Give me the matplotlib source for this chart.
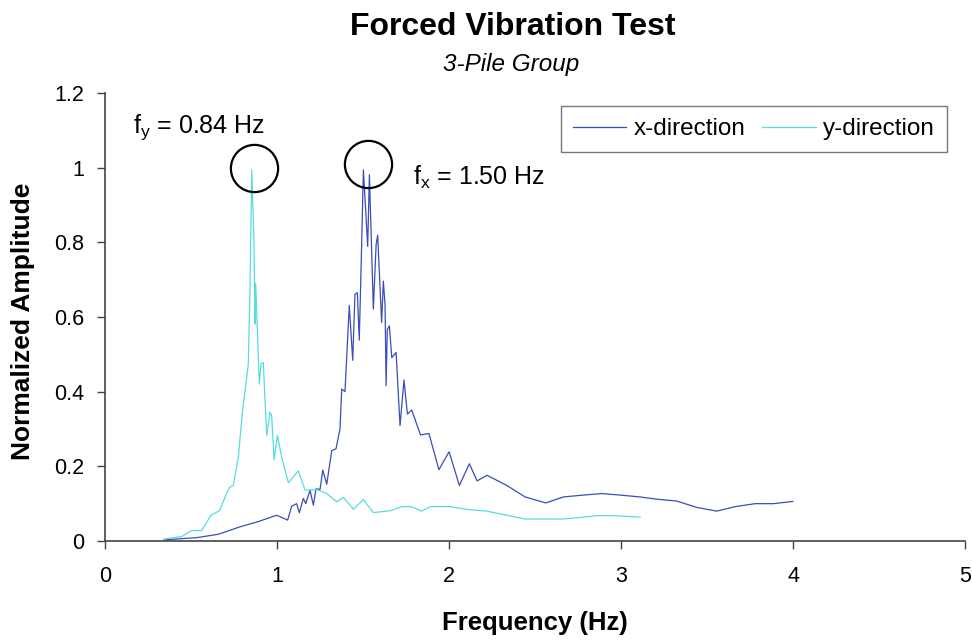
import numpy as np
import matplotlib
matplotlib.use('Agg')
import matplotlib.pyplot as plt

plt.rcParams['font.family'] = ['Liberation Sans', 'DejaVu Sans']

# x-direction response
freq_x = [0.343, 0.533, 0.659, 0.785, 0.891, 0.998, 1.062, 1.085, 1.114, 1.13,
          1.153, 1.167, 1.192, 1.211, 1.227, 1.25, 1.266, 1.289, 1.318, 1.343,
          1.366, 1.376, 1.395, 1.42, 1.44, 1.453, 1.467, 1.478, 1.492, 1.502,
          1.527, 1.537, 1.56, 1.576, 1.585, 1.608, 1.618, 1.628, 1.634, 1.641,
          1.653, 1.667, 1.692, 1.715, 1.738, 1.758, 1.783, 1.834, 1.883, 1.941,
          2.0, 2.06, 2.118, 2.163, 2.221, 2.335, 2.442, 2.562, 2.665, 2.781,
          2.888, 2.994, 3.11, 3.207, 3.323, 3.44, 3.556, 3.663, 3.779, 3.886,
          3.998]
amp_x = [0.003, 0.009, 0.018, 0.038, 0.052, 0.069, 0.056, 0.093, 0.100, 0.076,
         0.114, 0.100, 0.136, 0.096, 0.140, 0.138, 0.190, 0.152, 0.242, 0.247,
         0.30, 0.407, 0.40, 0.631, 0.484, 0.661, 0.665, 0.538, 0.794, 0.994,
         0.789, 0.981, 0.621, 0.794, 0.819, 0.585, 0.696, 0.632, 0.416, 0.567,
         0.576, 0.491, 0.505, 0.309, 0.431, 0.34, 0.351, 0.284, 0.288, 0.191,
         0.239, 0.149, 0.207, 0.161, 0.176, 0.149, 0.118, 0.102, 0.118, 0.123,
         0.127, 0.123, 0.118, 0.112, 0.107, 0.090, 0.080, 0.092, 0.100, 0.100,
         0.106]

# y-direction response
freq_y = [0.343, 0.446, 0.504, 0.562, 0.616, 0.665, 0.698, 0.723, 0.746, 0.775,
          0.80, 0.833, 0.843, 0.853, 0.866, 0.872, 0.876, 0.897, 0.907, 0.92,
          0.94, 0.959, 0.969, 0.983, 1.002, 1.027, 1.066, 1.124, 1.163, 1.231,
          1.289, 1.347, 1.386, 1.444, 1.502, 1.56, 1.657, 1.725, 1.78, 1.84,
          1.89, 2.006, 2.10, 2.22, 2.335, 2.44, 2.66, 2.76, 2.86, 2.955, 3.11]
amp_y = [0.005, 0.012, 0.028, 0.028, 0.069, 0.081, 0.118, 0.143, 0.149, 0.225,
         0.349, 0.474, 0.669, 0.994, 0.803, 0.581, 0.69, 0.42, 0.474, 0.478,
         0.283, 0.345, 0.336, 0.218, 0.283, 0.225, 0.156, 0.188, 0.136, 0.138,
         0.127, 0.105, 0.117, 0.085, 0.111, 0.076, 0.081, 0.092, 0.092, 0.080,
         0.092, 0.092, 0.085, 0.080, 0.069, 0.059, 0.059, 0.063, 0.068, 0.068,
         0.064]

x_ticks = [0, 1, 2, 3, 4, 5]
y_ticks = [0, 0.2, 0.4, 0.6, 0.8, 1, 1.2]
y_tick_labels = ['0', '0.2', '0.4', '0.6', '0.8', '1', '1.2']

fig = plt.figure(figsize=(9.72, 6.41), dpi=100)
ax = fig.add_axes([0.108, 0.156, 0.885, 0.699])

ax.plot(freq_x, amp_x, color='#3A4DB8', lw=0.9, label='x-direction')
ax.plot(freq_y, amp_y, color='#55DDE0', lw=0.9, label='y-direction')

# circles marking the peaks
ax.plot([0.866], [0.999], 'o', ms=34, mfc='none', mec='black', mew=1.6)
ax.plot([1.529], [1.009], 'o', ms=34, mfc='none', mec='black', mew=1.6)

ax.text(0.163, 1.092, '$\\mathregular{f_y}$ = 0.84 Hz', fontsize=18)
ax.text(1.79, 0.953, '$\\mathregular{f_x}$ = 1.50 Hz', fontsize=18)

ax.set_xlim(0, 5)
ax.set_ylim(0, 1.2)
ax.set_xticks(x_ticks)
ax.set_yticks(y_ticks)
ax.set_yticklabels(y_tick_labels)
ax.tick_params(axis='both', direction='out', length=6, width=1, labelsize=15.5,
               color='#444444')
ax.tick_params(axis='y', pad=9)
ax.tick_params(axis='x', pad=12)

for side in ['top', 'right']:
    ax.spines[side].set_visible(False)
for side in ['left', 'bottom']:
    ax.spines[side].set_color('#444444')
    ax.spines[side].set_linewidth(1.2)

fig.text(0.5504, 0.028, 'Frequency (Hz)', ha='center', va='center',
         fontsize=18.5, fontweight='bold')
fig.text(0.024, 0.499, 'Normalized Amplitude', ha='center', va='center',
         rotation=90, fontsize=19, fontweight='bold')

fig.text(0.528, 0.958, 'Forced Vibration Test', ha='center', va='center',
         fontsize=23, fontweight='bold')
fig.text(0.526, 0.899, '3-Pile Group', ha='center', va='center',
         fontsize=17.5, style='italic')

leg = ax.legend(loc='upper right', bbox_to_anchor=(0.979, 0.971), ncol=2,
                fontsize=17.5, frameon=True, fancybox=False, handlelength=2.2,
                columnspacing=0.7, handletextpad=0.3, borderpad=0.5,
                borderaxespad=0)
leg.get_frame().set_edgecolor('#555555')
leg.get_frame().set_linewidth(1.0)

fig.savefig('out.png', dpi=100)
